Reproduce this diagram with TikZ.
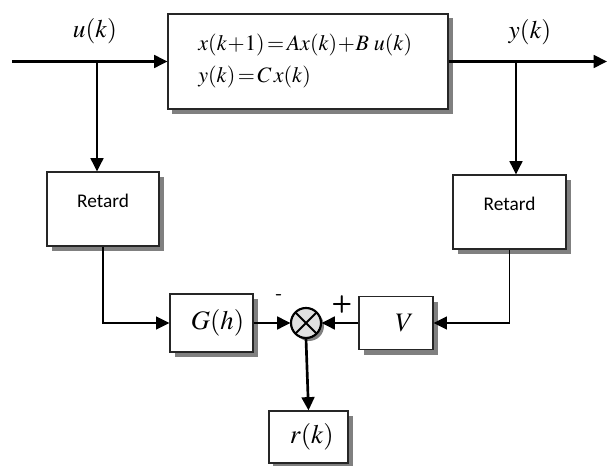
\documentclass[tikz,border=0pt]{standalone}
\usepackage{mathptmx}
\usetikzlibrary{arrows.meta}
\font\retfont="Carlito" at 14.5pt
\tikzset{
  blk/.style={draw=black!85, line width=0.8pt, fill=white, inner sep=0pt},
  shadowbox/.style={fill=gray, draw=none},
  wire/.style={line width=2pt, -{Triangle[length=10pt,width=9.5pt]}},
  thin wire/.style={line width=1.4pt, -{Triangle[length=10pt,width=9.5pt]}},
  lab/.style={font=\fontsize{19}{22}\selectfont},
  ret/.style={font=\retfont}
}
\begin{document}
\begin{tikzpicture}[x=0.75pt,y=-0.75pt]
\useasboundingbox (0,0) rectangle (608,466);
% shadows drawn first as plain rectangles
\fill[shadowbox] (172,18) rectangle (453,114);
\fill[shadowbox] (52,177) rectangle (164,251);
\fill[shadowbox] (458,180) rectangle (571,254);
\fill[shadowbox] (175,299) rectangle (258,357);
\fill[shadowbox] (364,302) rectangle (438,355);
\fill[shadowbox] (273,416) rectangle (353,466);
\fill[shadowbox] (309,326) circle[radius=15];
% main system box
\node[blk, minimum width=210pt, minimum height=71.25pt, align=left,
  font=\fontsize{16.5}{24}\selectfont] (main) at (308,61.5)
  {$x(k\!+\!1)\!=\!Ax(k)\!+\!B\;u(k)$\\ $y(k)\!=\!C\,x(k)$\hspace*{80pt}};
% delay boxes
\node[blk, ret, minimum width=84pt, minimum height=55.5pt] (retL) at (103,209)
  {\raisebox{12pt}{Retard}};
\node[blk, ret, minimum width=84.75pt, minimum height=55.5pt] (retR) at (509.5,212)
  {\raisebox{12pt}{Retard}};
% lower blocks
\node[blk, minimum width=62.25pt, minimum height=43.5pt, font=\fontsize{20}{24}\selectfont] (G) at (211.5,323)
  {\hspace*{9pt}$G(h)$};
\node[blk, circle, minimum size=22.5pt, fill=black!12] (sum) at (306,323) {};
\draw[line width=1.5pt] (sum.north west) -- (sum.south east) (sum.north east) -- (sum.south west);
\draw[line width=1.6pt] (sum) circle[radius=11.25pt];
\node[blk, minimum width=55.5pt, minimum height=39.75pt, font=\fontsize{20}{24}\selectfont] (V) at (396,323)
  {\hspace*{13pt}$V$};
\node[blk, minimum width=59.25pt, minimum height=39pt, font=\fontsize{20}{24}\selectfont] (r) at (308.5,437)
  {\hspace*{5pt}$r(k)$};
% signal labels
\node[lab] (ulab) at (95,31) {$u(k)$};
\node[lab] (ylab) at (530,32) {$y(k)$};
\node[font=\sffamily\bfseries\fontsize{14}{14}\selectfont] (minus) at (279,297) {-};
\node[font=\sffamily\bfseries\fontsize{18}{18}\selectfont] (plus) at (342,305) {+};
% coordinates
\coordinate (in) at (12,61.5);
\coordinate (out) at (607,61.5);
\coordinate (bu) at (97,61.5);
\coordinate (by) at (516,61.5);
% connectors
\draw[wire] (in) -- (main.west);
\draw[wire] (main.east) -- (out);
\draw[wire] (bu) -- (bu |- retL.north);
\draw[wire] (by) -- (by |- retR.north);
\draw[thin wire] (retL.south) |- (G.west);
\draw[wire] (G.east) -- (sum.west);
\draw[thin wire] (retR.south) |- (V.east);
\draw[wire] (V.west) -- (sum.east);
\draw[wire] (sum.south) -- (r.north);
\end{tikzpicture}
\end{document}
